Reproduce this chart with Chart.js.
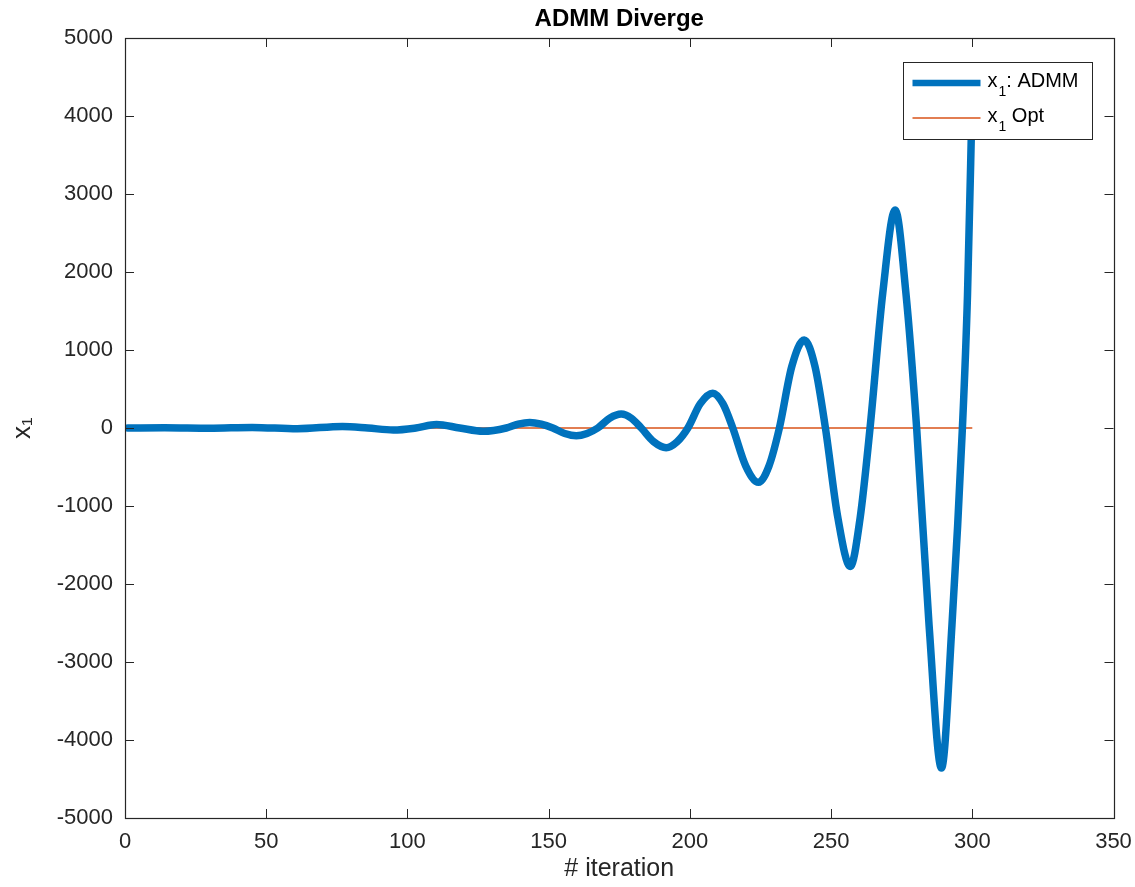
<!DOCTYPE html>
<html>
<head>
<meta charset="utf-8">
<title>ADMM Diverge</title>
<script src="https://cdn.jsdelivr.net/npm/chart.js@4.4.0/dist/chart.umd.min.js"></script>
<style>
  body { margin: 0; background: #fff; }
  #wrap { width: 1135px; height: 887px; }
</style>
</head>
<body>
<div id="wrap"><canvas id="admmChart" width="1135" height="887"></canvas></div>
<script>
// values (peaks, troughs, zero crossings and flank points)
const iterations = [
  1, 14, 30, 45, 61, 77, 86, 95, 103, 110.3, 118.5, 126.8, 135,
  139.2, 143.3, 147.4, 151.5, 155.7, 159.8, 163.6, 167.4,
  171.6, 175.7, 179.3, 182.8, 187.2, 191.6, 195.5, 199.3,
  203.7, 208.1, 211.7, 215.2, 219.8, 224.3, 228.0, 231.7,
  236.1, 240.5, 244.3, 248.0, 252.4, 256.8, 260.3, 263.8,
  268.3, 272.7, 276.5, 280.3, 284.7, 289.1, 292.8, 296.5,
  298.3, 300
];
const x1Admm = [
  0, 3, -3, 8, -10, 20, 0, -26, 0, 45, 0, -42, 0,
  50, 72, 50, 0, -70, -100, -70, 0,
  125, 178, 125, 0, -176, -252, -176, 0,
  312, 446, 312, 0, -488, -697, -488, 0,
  790, 1128, 790, 0, -1150, -1775, -1150, 0,
  1730, 2795, 1730, 0, -2530, -4360, -2530, 0,
  1700, 4300
];
const optIterations = [1, 300];
const x1Opt = [0, 0];

const xTicks = [0, 50, 100, 150, 200, 250, 300, 350];
const yTicks = [-5000, -4000, -3000, -2000, -1000, 0, 1000, 2000, 3000, 4000, 5000];

const legendItems = [
  { base: "x", sub: "1", rest: ": ADMM" },
  { base: "x", sub: "1", rest: " Opt" }
];

const axisColor = "#262626";
const fontFamily = "'Liberation Sans', Helvetica, Arial, sans-serif";

Chart.defaults.font.family = fontFamily;
Chart.defaults.color = axisColor;

// MATLAB style box with inward ticks on all four sides
const axesBox = {
  id: "axesBox",
  afterDatasetsDraw(chart) {
    const { ctx, chartArea: a, scales } = chart;
    const len = 9;
    ctx.save();
    ctx.strokeStyle = axisColor;
    ctx.lineWidth = 1;
    ctx.beginPath();
    xTicks.forEach(v => {
      const px = Math.round(scales.x.getPixelForValue(v)) + 0.5;
      ctx.moveTo(px, a.bottom); ctx.lineTo(px, a.bottom - len);
      ctx.moveTo(px, a.top); ctx.lineTo(px, a.top + len);
    });
    yTicks.forEach(v => {
      const py = Math.round(scales.y.getPixelForValue(v)) + 0.5;
      ctx.moveTo(a.left, py); ctx.lineTo(a.left + len, py);
      ctx.moveTo(a.right, py); ctx.lineTo(a.right - len, py);
    });
    ctx.stroke();
    ctx.lineWidth = 1.2;
    ctx.strokeRect(Math.round(a.left) + 0.5, Math.round(a.top) + 0.5,
      Math.round(a.right - a.left), Math.round(a.bottom - a.top));
    ctx.restore();
  }
};

// legend box drawn inside the axes, top right
const boxLegend = {
  id: "boxLegend",
  afterDatasetsDraw(chart) {
    const { ctx, chartArea: a } = chart;
    const w = 189, h = 77;
    const left = Math.round(a.right - 22 - w) + 0.5;
    const top = Math.round(a.top + 24) + 0.5;
    ctx.save();
    ctx.fillStyle = "#fff";
    ctx.fillRect(left, top, w, h);
    ctx.strokeStyle = axisColor;
    ctx.lineWidth = 1;
    ctx.strokeRect(left, top, w, h);

    legendItems.forEach((item, i) => {
      const ds = chart.data.datasets[i];
      const cy = top + 20.5 + i * 35;
      ctx.strokeStyle = ds.borderColor;
      ctx.lineWidth = i === 0 ? 6.5 : ds.borderWidth;
      ctx.lineCap = "butt";
      ctx.beginPath();
      ctx.moveTo(left + 9, cy);
      ctx.lineTo(left + 77, cy);
      ctx.stroke();

      const baseY = cy + 4;
      let tx = left + 84;
      ctx.fillStyle = "#000";
      ctx.textBaseline = "alphabetic";
      ctx.font = "20px " + fontFamily;
      ctx.fillText(item.base, tx, baseY);
      tx += ctx.measureText(item.base).width + 1;
      ctx.font = "14px " + fontFamily;
      ctx.fillText(item.sub, tx, baseY + 9);
      tx += ctx.measureText(item.sub).width;
      ctx.font = "20px " + fontFamily;
      ctx.fillText(item.rest, tx, baseY);
    });
    ctx.restore();
  }
};

const ctx = document.getElementById("admmChart").getContext("2d");

const admmChart = new Chart(ctx, {
  type: "line",
  data: {
    datasets: [
      {
        label: "x₁: ADMM",
        data: iterations.map((it, i) => ({ x: it, y: x1Admm[i] })),
        borderColor: "#0072BD",
        borderWidth: 7.5,
        pointRadius: 0,
        cubicInterpolationMode: "monotone",
        borderJoinStyle: "round",
        borderCapStyle: "round",
        fill: false
      },
      {
        label: "x₁ Opt",
        data: optIterations.map((it, i) => ({ x: it, y: x1Opt[i] })),
        borderColor: "#D95319",
        borderWidth: 1.5,
        pointRadius: 0,
        fill: false
      }
    ]
  },
  options: {
    responsive: false,
    animation: false,
    layout: { padding: { left: 0, right: 21.5, top: 0, bottom: 0 } },
    plugins: {
      legend: { display: false },
      tooltip: { enabled: false },
      title: {
        display: true,
        fullSize: false,
        text: "ADMM Diverge",
        color: "#000",
        font: { size: 24, weight: "bold" },
        padding: { top: 5, bottom: 4.2 }
      }
    },
    scales: {
      x: {
        type: "linear",
        min: 0,
        max: 350,
        afterFit: s => { s.height = 69; s.paddingRight = 0; s.paddingLeft = 0; },
        afterBuildTicks: s => { s.ticks = xTicks.map(v => ({ value: v })); },
        grid: { display: false, drawTicks: false },
        border: { display: false },
        ticks: {
          font: { size: 22 },
          color: axisColor,
          padding: 11,
          maxRotation: 0,
          callback: v => String(v)
        },
        title: {
          display: true,
          text: "# iteration",
          font: { size: 25 },
          color: axisColor,
          padding: { top: 0, bottom: 3 }
        }
      },
      y: {
        type: "linear",
        min: -5000,
        max: 5000,
        afterFit: s => { s.width = 125; },
        afterBuildTicks: s => { s.ticks = yTicks.map(v => ({ value: v })); },
        grid: { display: false, drawTicks: false },
        border: { display: false },
        ticks: {
          font: { size: 22 },
          color: axisColor,
          padding: 12,
          callback: v => String(v)
        },
        title: {
          display: true,
          text: "x₁",
          font: { size: 26 },
          color: axisColor,
          padding: { top: 7, bottom: 0 }
        }
      }
    }
  },
  plugins: [axesBox, boxLegend]
});
</script>
</body>
</html>
